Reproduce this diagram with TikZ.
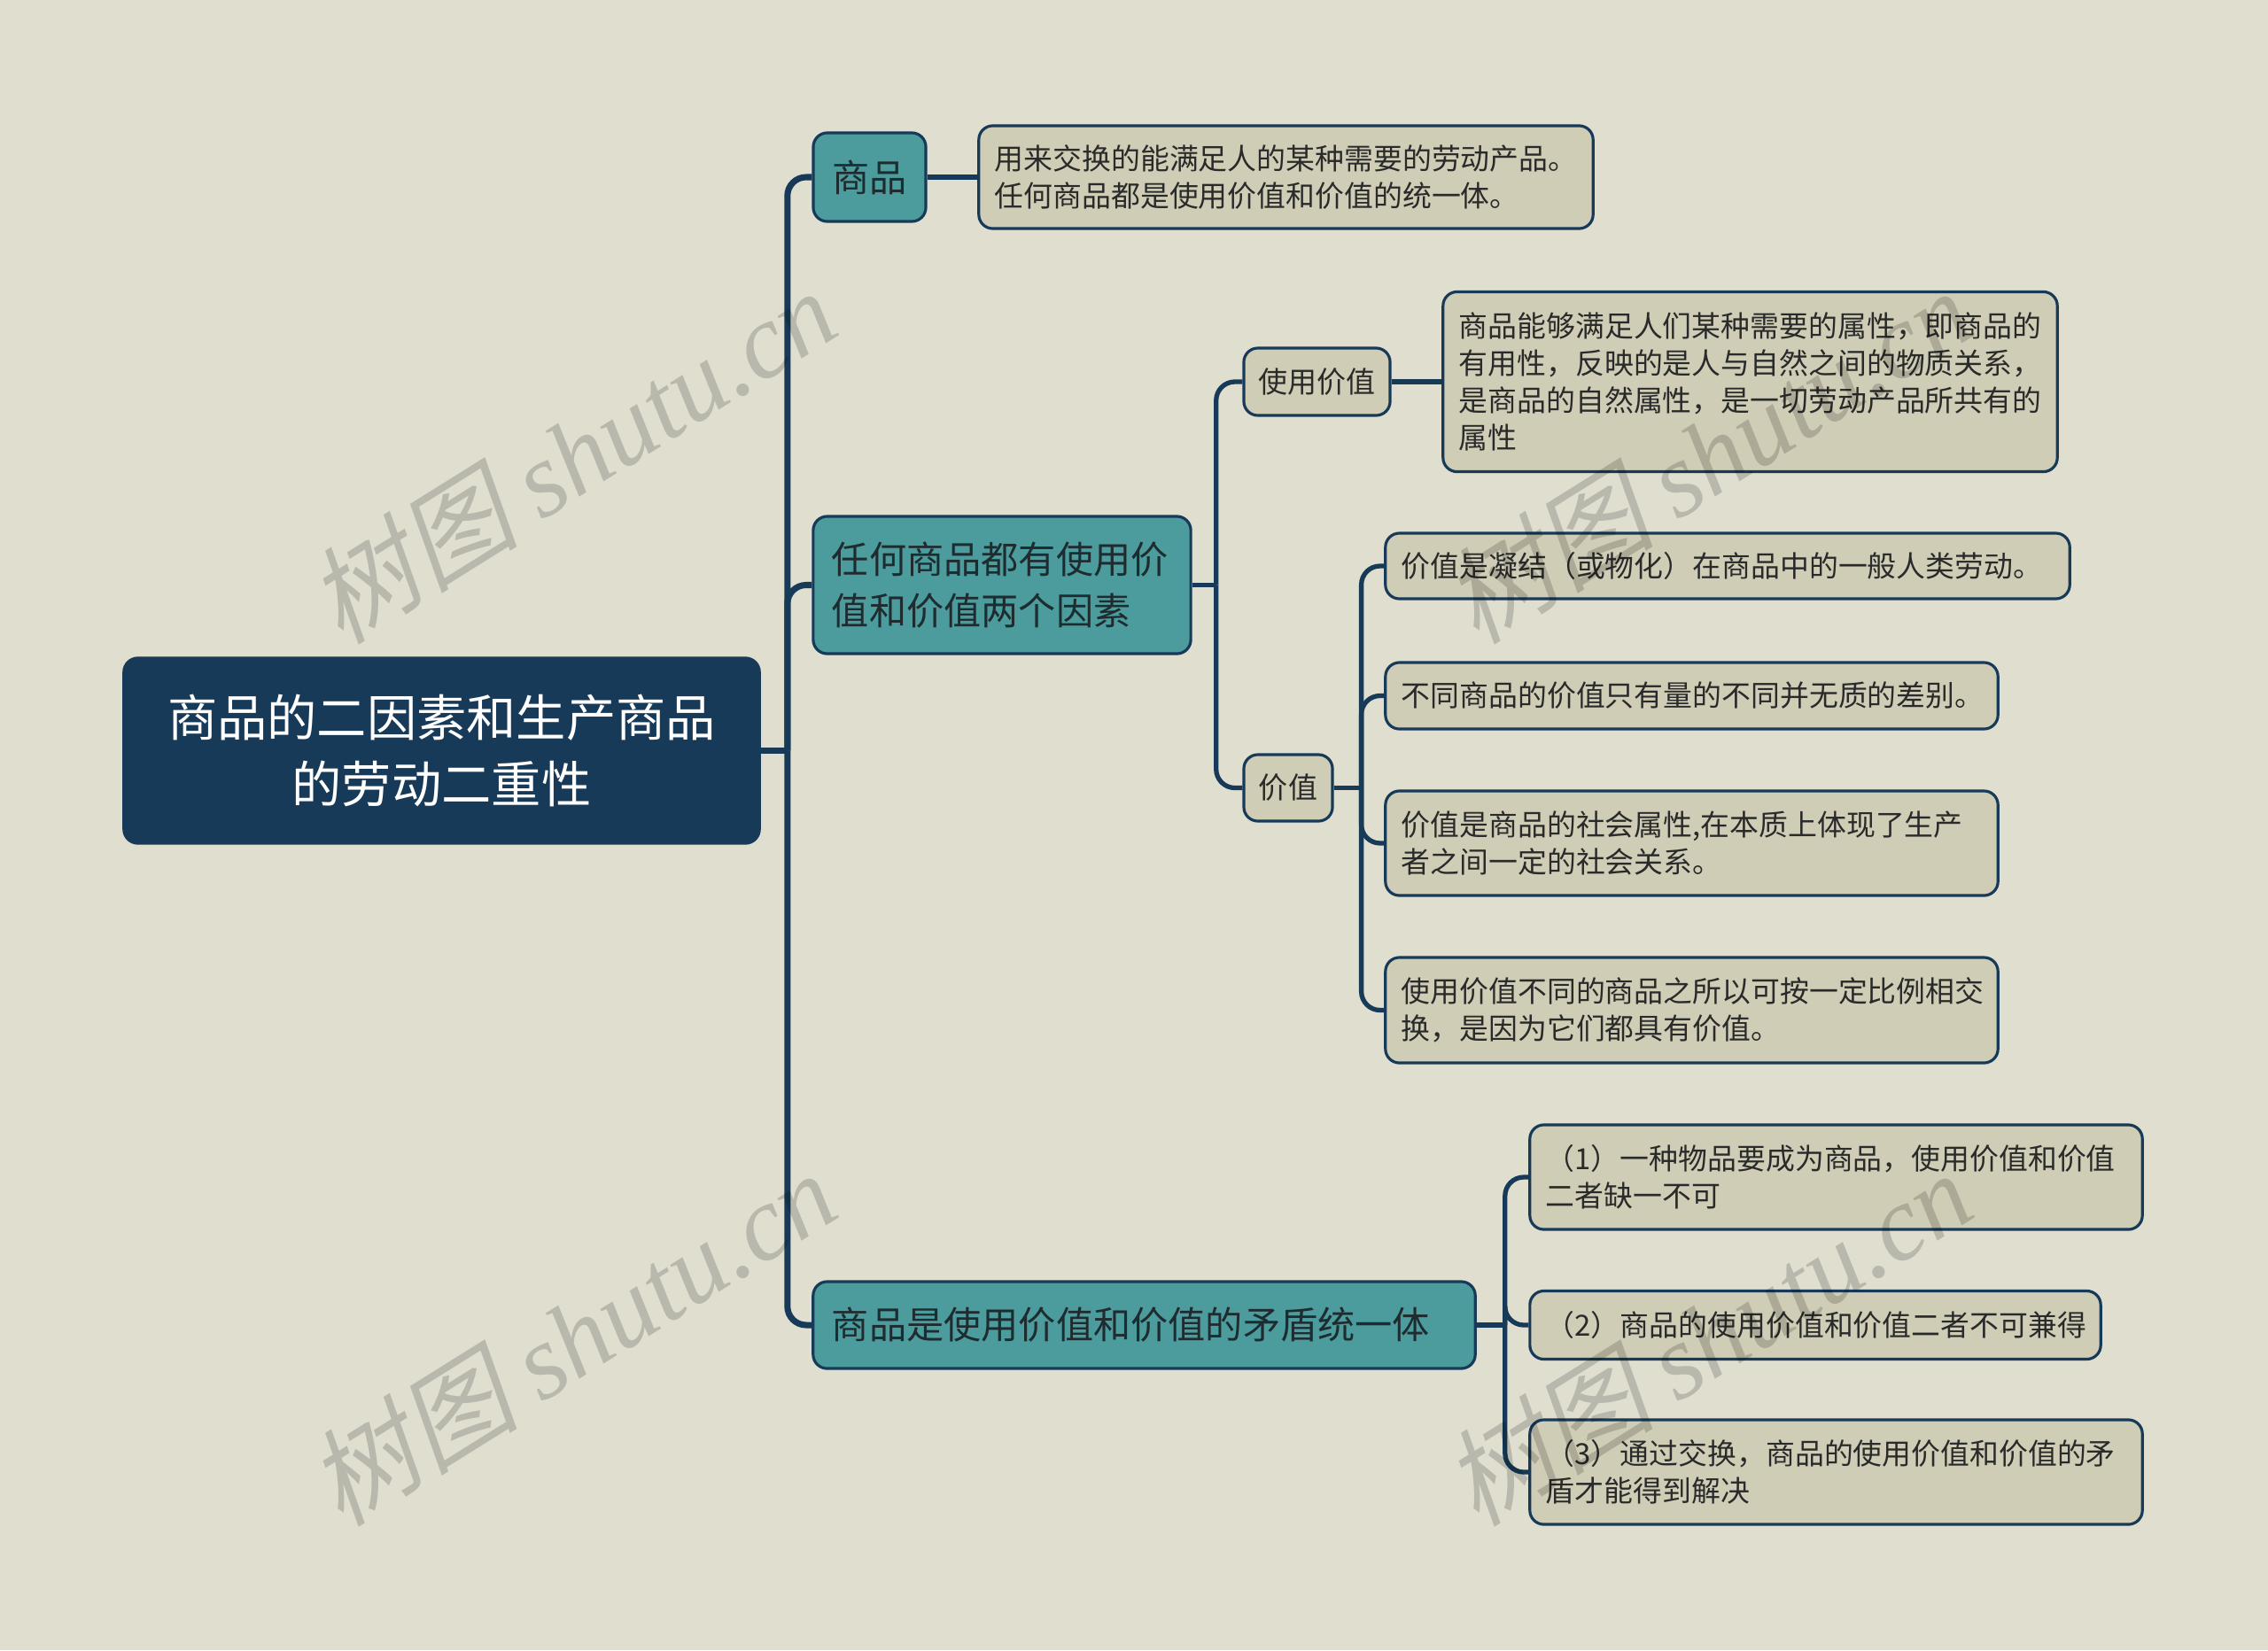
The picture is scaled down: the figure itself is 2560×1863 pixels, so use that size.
\documentclass[tikz,border=0pt]{standalone}
\usepackage{fontspec}
\setmainfont{Noto Sans CJK SC}
\newfontfamily\wmcjk[FakeSlant=0.22]{Noto Sans CJK SC}
\newfontfamily\wmlat{Liberation Serif}
\definecolor{bgc}{HTML}{DFDECF}
\definecolor{navy}{HTML}{173A59}
\definecolor{tealc}{HTML}{4C9B9D}
\definecolor{beigec}{HTML}{CFCDB6}
\definecolor{inkc}{HTML}{2A2A2A}
\definecolor{tinkc}{HTML}{1E2C30}
\tikzset{
  rootbox/.style={fill=navy, draw=navy, line width=0.9pt, rounded corners=4.5pt, text=white,
    align=center, font=\fontsize{16pt}{21.3pt}\selectfont, inner sep=0pt},
  lonebox/.style={fill=tealc, draw=navy, line width=0.9pt, rounded corners=4.5pt, text=tinkc,
    align=left, font=\fontsize{12pt}{16.3pt}\selectfont, inner xsep=0.21cm, inner ysep=0pt},
  ltwobox/.style={fill=beigec, draw=navy, line width=0.9pt, rounded corners=4.5pt, text=inkc,
    align=center, font=\fontsize{9.4pt}{12pt}\selectfont, inner sep=0pt},
  descbox/.style={fill=beigec, draw=navy, line width=0.9pt, rounded corners=4.5pt, text=inkc,
    align=left, font=\fontsize{9.35pt}{12pt}\selectfont, inner xsep=0.18cm, inner ysep=0pt},
  connone/.style={draw=navy, line width=2pt},
  conntwo/.style={draw=navy, line width=1.5pt},
  wmark/.style={text=black, text opacity=0.17, rotate=32, font=\fontsize{34pt}{40pt}\selectfont, inner sep=0pt},
}
\begin{document}
\begin{tikzpicture}[x=0.01cm, y=-0.01cm]
\fill[bgc] (0,0) rectangle (2560,1863);
\useasboundingbox (0,0) rectangle (2560,1863);

% root
\node[rootbox, minimum width=7.17cm, minimum height=2.09cm] (root) at (498.5,847.5)
  {商品的二因素和生产商品\\的劳动二重性};

% level 1
\node[lonebox, align=center, minimum width=1.27cm, minimum height=1.0cm] (a) at (981.5,200) {商品};
\node[lonebox, text width=3.84cm, minimum height=1.55cm] (b) at (1131,660.5)
  {任何商品都有使用价\\值和价值两个因素};
\node[lonebox, text width=7.05cm, minimum height=0.98cm] (c) at (1291.5,1496)
  {商品是使用价值和价值的矛盾统一体};

% level 2
\node[ltwobox, minimum width=1.65cm, minimum height=0.76cm] (u) at (1486.5,431) {使用价值};
\node[ltwobox, minimum width=1.00cm, minimum height=0.75cm] (v) at (1454,889.5) {价值};

% descriptions
\node[descbox, text width=6.57cm, minimum height=1.16cm] (d0) at (1451.5,200)
  {用来交换的能满足人的某种需要的劳动产品。\\任何商品都是使用价值和价值的统一体。};
\node[descbox, text width=6.57cm, minimum height=2.03cm] (d1) at (1975.5,431)
  {商品能够满足人们某种需要的属性，即商品的\\有用性，反映的是人与自然之间的物质关系，\\是商品的自然属性，是一切劳动产品所共有的\\属性};
\node[descbox, text width=7.36cm, minimum height=0.74cm] (v1) at (1950,639)
  {价值是凝结（或物化）在商品中的一般人类劳动。};
\node[descbox, text width=6.55cm, minimum height=0.75cm] (v2) at (1909.5,785.5)
  {不同商品的价值只有量的不同并无质的差别。};
\node[descbox, text width=6.55cm, minimum height=1.18cm] (v3) at (1909.5,952)
  {价值是商品的社会属性,在本质上体现了生产\\者之间一定的社会关系。};
\node[descbox, text width=6.55cm, minimum height=1.19cm] (v4) at (1909.5,1140.5)
  {使用价值不同的商品之所以可按一定比例相交\\换，是因为它们都具有价值。};
\node[descbox, text width=6.55cm, minimum height=1.18cm] (m1) at (2072.5,1329)
  {（1）一种物品要成为商品，使用价值和价值\\二者缺一不可};
\node[descbox, text width=6.08cm, minimum height=0.77cm] (m2) at (2049,1496)
  {（2）商品的使用价值和价值二者不可兼得};
\node[descbox, text width=6.55cm, minimum height=1.18cm] (m3) at (2072.5,1662)
  {（3）通过交换，商品的使用价值和价值的矛\\盾才能得到解决};

% connectors
\path (root.east) ++(30,0) coordinate (j0);
\draw[connone] (root.east) -- (j0);
\foreach \n in {a,b,c} \draw[connone, rounded corners=6pt] (j0) |- (\n.west);

\path (b.east) ++(27,0) coordinate (j1);
\draw[conntwo] (b.east) -- (j1);
\foreach \n in {u,v} \draw[conntwo, rounded corners=6pt] (j1) |- (\n.west);

\draw[conntwo] (a.east) -- (d0.west);
\draw[conntwo] (u.east) -- (d1.west);

\path (v.east) ++(31,0) coordinate (j2);
\draw[conntwo] (v.east) -- (j2);
\foreach \n in {v1,v2,v3,v4} \draw[conntwo, rounded corners=6pt] (j2) |- (\n.west);

\path (c.east) ++(32,0) coordinate (j3);
\draw[conntwo] (c.east) -- (j3);
\foreach \n in {m1,m2,m3} \draw[conntwo, rounded corners=6pt] (j3) |- (\n.west);

% watermarks
\node[wmark] (w1) at (645,514) {{\wmcjk 树图} {\wmlat\itshape shutu.cn}};
\node[wmark] (w2) at (645,1510) {{\wmcjk 树图} {\wmlat\itshape shutu.cn}};
\node[wmark] (w3) at (1927,1510) {{\wmcjk 树图} {\wmlat\itshape shutu.cn}};
\node[wmark] (w4) at (1927,514) {{\wmcjk 树图} {\wmlat\itshape shutu.cn}};
\end{tikzpicture}
\end{document}
